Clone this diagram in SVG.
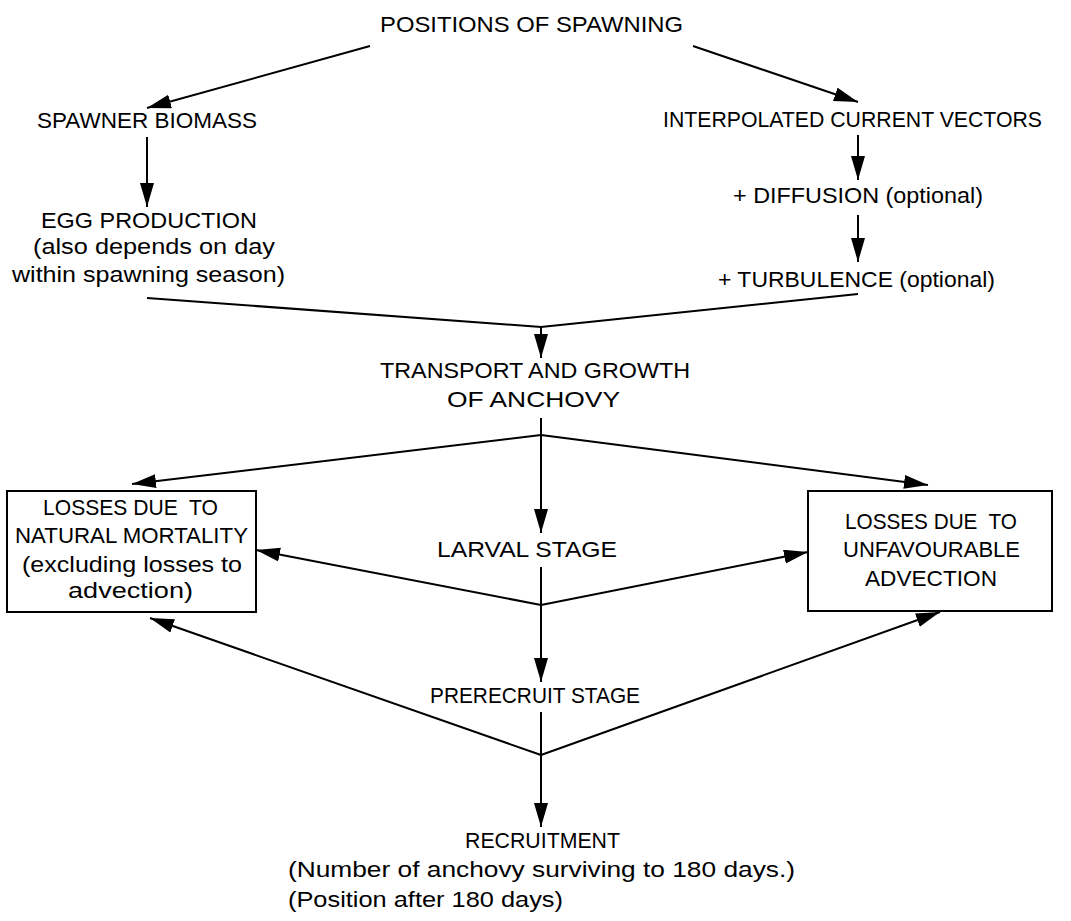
<svg xmlns="http://www.w3.org/2000/svg" width="1071" height="921" viewBox="0 0 1071 921">
<style>
text{font-family:"Liberation Sans",Arial,sans-serif;font-size:22px;fill:#000;white-space:pre}
.c line,.c polyline{stroke:#000;stroke-width:2;fill:none}
.box{fill:#fff;stroke:#000;stroke-width:2}
</style>
<defs>
<marker id="ah" markerUnits="userSpaceOnUse" markerWidth="26" markerHeight="16" refX="24" refY="7" orient="auto">
<path d="M0,0 L24,7 L0,14 z" fill="#000"/>
</marker>
</defs>
<rect width="1071" height="921" fill="#fff"/>
<g class="c" id="connectors">
<line x1="370" y1="46" x2="147" y2="108" marker-end="url(#ah)"/>
<line x1="693" y1="46" x2="858" y2="102" marker-end="url(#ah)"/>
<line x1="147" y1="137" x2="147" y2="207" marker-end="url(#ah)"/>
<line x1="858" y1="135" x2="858" y2="180" marker-end="url(#ah)"/>
<line x1="858" y1="215" x2="858" y2="262" marker-end="url(#ah)"/>
<polyline points="147,298 541,327 858,294"/>
<line x1="541" y1="327" x2="541" y2="358" marker-end="url(#ah)"/>
<line x1="541" y1="418" x2="541" y2="533" marker-end="url(#ah)"/>
<line x1="541" y1="435" x2="132" y2="484" marker-end="url(#ah)"/>
<line x1="541" y1="435" x2="928" y2="485" marker-end="url(#ah)"/>
<line x1="541" y1="567" x2="541" y2="682" marker-end="url(#ah)"/>
<line x1="541" y1="605" x2="256" y2="550" marker-end="url(#ah)"/>
<line x1="541" y1="605" x2="808" y2="552" marker-end="url(#ah)"/>
<line x1="541" y1="712" x2="541" y2="827" marker-end="url(#ah)"/>
<line x1="541" y1="755" x2="150" y2="618" marker-end="url(#ah)"/>
<line x1="541" y1="755" x2="940" y2="612" marker-end="url(#ah)"/>
</g>
<g id="positions"><text x="380" y="32" textLength="303" lengthAdjust="spacingAndGlyphs">POSITIONS OF SPAWNING</text></g>
<g id="spawner"><text x="37" y="128" textLength="220" lengthAdjust="spacingAndGlyphs">SPAWNER BIOMASS</text></g>
<g id="egg">
<text x="41" y="228" textLength="216" lengthAdjust="spacingAndGlyphs">EGG PRODUCTION</text>
<text x="33" y="254" textLength="242" lengthAdjust="spacingAndGlyphs">(also depends on day</text>
<text x="12" y="282" textLength="273" lengthAdjust="spacingAndGlyphs">within spawning season)</text>
</g>
<g id="current"><text x="663" y="127" textLength="379" lengthAdjust="spacingAndGlyphs">INTERPOLATED CURRENT VECTORS</text></g>
<g id="diffusion"><text x="733" y="203" textLength="250" lengthAdjust="spacingAndGlyphs">+ DIFFUSION (optional)</text></g>
<g id="turbulence"><text x="718" y="287" textLength="277" lengthAdjust="spacingAndGlyphs">+ TURBULENCE (optional)</text></g>
<g id="transport">
<text x="380" y="378" textLength="310" lengthAdjust="spacingAndGlyphs">TRANSPORT AND GROWTH</text>
<text x="447" y="407" textLength="173" lengthAdjust="spacingAndGlyphs">OF ANCHOVY</text>
</g>
<g id="natural">
<rect class="box" x="7" y="491" width="249" height="121"/>
<text x="43" y="515" textLength="175" lengthAdjust="spacingAndGlyphs">LOSSES DUE  TO</text>
<text x="15" y="543" textLength="233" lengthAdjust="spacingAndGlyphs">NATURAL MORTALITY</text>
<text x="22" y="572" textLength="220" lengthAdjust="spacingAndGlyphs">(excluding losses to</text>
<text x="68" y="598" textLength="125" lengthAdjust="spacingAndGlyphs">advection)</text>
</g>
<g id="advection">
<rect class="box" x="808" y="491" width="244" height="120"/>
<text x="845" y="529" textLength="172" lengthAdjust="spacingAndGlyphs">LOSSES DUE  TO</text>
<text x="843" y="557" textLength="177" lengthAdjust="spacingAndGlyphs">UNFAVOURABLE</text>
<text x="865" y="586" textLength="132" lengthAdjust="spacingAndGlyphs">ADVECTION</text>
</g>
<g id="larval"><text x="437" y="557" textLength="180" lengthAdjust="spacingAndGlyphs">LARVAL STAGE</text></g>
<g id="prerecruit"><text x="430" y="703" textLength="210" lengthAdjust="spacingAndGlyphs">PRERECRUIT STAGE</text></g>
<g id="recruitment">
<text x="465" y="848" textLength="155" lengthAdjust="spacingAndGlyphs">RECRUITMENT</text>
<text x="288" y="877" textLength="507" lengthAdjust="spacingAndGlyphs">(Number of anchovy surviving to 180 days.)</text>
<text x="288" y="907" textLength="275" lengthAdjust="spacingAndGlyphs">(Position after 180 days)</text>
</g>
</svg>
